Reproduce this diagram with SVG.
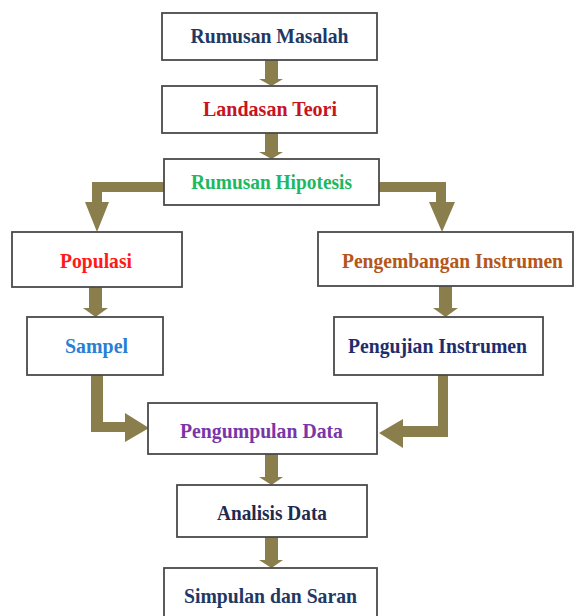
<svg xmlns="http://www.w3.org/2000/svg" width="577" height="616" viewBox="0 0 577 616">
<style>
.box{fill:#fff;stroke:#4a4a4a;stroke-width:1.8}
.t{font-family:"Liberation Serif","Times New Roman",serif;font-weight:bold;font-size:21px;text-anchor:middle}
.arr{fill:#8a7e4c}
</style>
<rect width="577" height="616" fill="#fff"/>
<g id="connectors">
<polygon class="arr" points="265,60 278,60 278,79 283,79 271.5,86 259,79 265,79"/>
<polygon class="arr" points="265,133 278,133 278,152 283,152 271.5,159 259,152 265,152"/>
<polygon class="arr" points="164,182 92,182 92,202 85,202 97,232 109,202 102,202 102,192 164,192"/>
<polygon class="arr" points="379,182 446,182 446,202 455,202 442,232 429,202 436,202 436,192 379,192"/>
<polygon class="arr" points="89,287 102,287 102,308 108,308 95.5,317 83,308 89,308"/>
<polygon class="arr" points="439,286 452,286 452,308 458,308 445.5,317 433,308 439,308"/>
<polygon class="arr" points="91,375 103,375 103,422 125,422 125,413 149,428 125,442 125,432 91,432"/>
<polygon class="arr" points="438,375 448,375 448,437 403,437 403,448 379,433 403,419 403,426 438,426"/>
<polygon class="arr" points="265,454 278,454 278,477 283,477 271.5,485 259,477 265,477"/>
<polygon class="arr" points="265,537 278,537 278,560 283,560 271.5,568 259,560 265,560"/>
</g>
<g id="n1"><rect class="box" x="162" y="13" width="215" height="47"/><text class="t" x="269.5" y="43" fill="#1f3864" textLength="158" lengthAdjust="spacingAndGlyphs">Rumusan Masalah</text></g>
<g id="n2"><rect class="box" x="162" y="86" width="215" height="47"/><text class="t" x="270" y="116" fill="#c8141e" textLength="134" lengthAdjust="spacingAndGlyphs">Landasan Teori</text></g>
<g id="n3"><rect class="box" x="164" y="159" width="215" height="46"/><text class="t" x="271.5" y="189" fill="#1db861" textLength="161" lengthAdjust="spacingAndGlyphs">Rumusan Hipotesis</text></g>
<g id="n4"><rect class="box" x="12" y="232" width="170" height="55"/><text class="t" x="96" y="268" fill="#ff1a1a" textLength="72" lengthAdjust="spacingAndGlyphs">Populasi</text></g>
<g id="n5"><rect class="box" x="27" y="317" width="136" height="58"/><text class="t" x="96.5" y="353" fill="#2a7fd4" textLength="63" lengthAdjust="spacingAndGlyphs">Sampel</text></g>
<g id="n6"><rect class="box" x="318" y="232" width="255" height="54"/><text class="t" x="452.5" y="268" fill="#b5561a" textLength="221" lengthAdjust="spacingAndGlyphs">Pengembangan Instrumen</text></g>
<g id="n7"><rect class="box" x="334" y="317" width="209" height="58"/><text class="t" x="437.5" y="353" fill="#1f2d6e" textLength="179" lengthAdjust="spacingAndGlyphs">Pengujian Instrumen</text></g>
<g id="n8"><rect class="box" x="148" y="403" width="229" height="51"/><text class="t" x="261.5" y="438" fill="#7a35a8" textLength="163" lengthAdjust="spacingAndGlyphs">Pengumpulan Data</text></g>
<g id="n9"><rect class="box" x="177" y="485" width="190" height="52"/><text class="t" x="272" y="520" fill="#1f2a4f" textLength="110" lengthAdjust="spacingAndGlyphs">Analisis Data</text></g>
<g id="n10"><rect class="box" x="164" y="568" width="213" height="60"/><text class="t" x="270.5" y="603" fill="#1f3864" textLength="173" lengthAdjust="spacingAndGlyphs">Simpulan dan Saran</text></g>
</svg>
